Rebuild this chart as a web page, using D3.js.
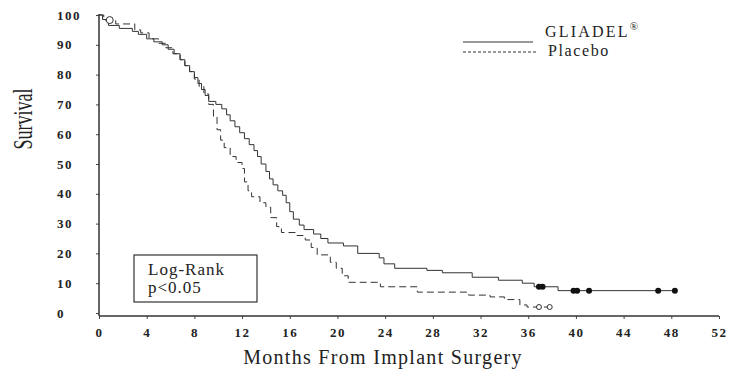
<!DOCTYPE html>
<html>
<head>
<meta charset="utf-8">
<script src="https://cdn.jsdelivr.net/npm/d3@7"></script>
<style>
  body { margin: 0; background: #fff; }
  text { font-family: "Liberation Serif", "Times New Roman", serif; fill: #222; }
</style>
</head>
<body>
<div id="chart"></div>
<script>
// step points: [month, survival after step]
var gliadelTimes = [0, 0.3, 0.8, 1.7, 2.8, 3.3, 4.0, 4.6, 5.3, 5.8, 6.3, 6.8, 7.2, 7.6, 8.0, 8.3, 8.6, 8.9, 9.2, 9.8,
    10.3, 10.7, 11.0, 11.4, 11.8, 12.2, 12.6, 13.0, 13.3, 13.6, 14.0, 14.3, 14.6, 15.0, 15.4, 15.7, 16.0, 16.3, 16.8, 17.2,
    18.0, 18.6, 19.2, 20.5, 21.7, 23.5, 23.9, 24.8, 27.5, 28.8, 31.3, 33.5, 35.5, 36.5, 38.5, 48.4];
var gliadelSurv = [100, 98.5, 96.5, 95.5, 94.5, 93.5, 92, 91, 90, 88.5, 87, 85, 83, 81, 79, 77, 75, 73, 71, 70,
    68.5, 66.5, 64.5, 62.5, 60.5, 58.5, 56.5, 54.5, 52.5, 50, 47.5, 45, 43, 41, 39.5, 37, 34, 31.5, 29.5, 28,
    26.5, 25, 23.5, 22.5, 20, 18.5, 16.5, 15, 14.3, 13.5, 12, 11, 10, 8.8, 7.5, 7.5];

var placeboTimes = [0, 0.4, 1.4, 3.0, 3.5, 4.2, 5.0, 5.6, 6.2, 6.8, 7.2, 7.6, 8.0, 8.4, 8.8, 9.2, 9.6, 9.9, 10.2, 10.5,
    11.0, 11.5, 12.0, 12.2, 12.5, 12.8, 13.5, 14.0, 14.4, 14.9, 15.3, 16.6, 17.3, 17.8, 18.3, 19.4, 19.9, 20.4, 20.9,
    23.6, 26.7, 31.0, 32.8, 34.0, 35.3, 35.9, 38.0];
var placeboSurv = [100, 98.3, 97, 95, 94, 92, 90.5, 89, 87, 85, 83, 81, 78.5, 76, 73.5, 70, 66, 61.5, 58, 55.5,
    52.5, 50.5, 48.5, 44, 41, 39, 37, 35.5, 32, 29, 27, 26, 24.5, 22, 19.5, 17, 15, 12.5, 10.3,
    8.8, 7, 6, 5.4, 4.5, 2.7, 2, 2];

// censored patients
var gliadelCensT = [36.9, 37.2, 39.8, 40.1, 41.1, 46.9, 48.3];
var gliadelCensS = [8.8, 8.8, 7.5, 7.5, 7.5, 7.5, 7.5];
var placeboCensT = [0.9, 36.9, 37.8];
var placeboCensS = [98.3, 2, 2];

var xTicks = d3.range(0, 53, 4);
var yTicks = d3.range(0, 101, 10);

var svg = d3.select("#chart").append("svg")
    .attr("width", 729)
    .attr("height", 369);

var x = d3.scaleLinear().domain([0, 52]).range([99, 719]);
var y = d3.scaleLinear().domain([0, 100]).range([313, 15]);

// X axis
var xAxis = svg.append("g")
    .attr("transform", "translate(0,316)")
    .call(d3.axisBottom(x).tickValues(xTicks).tickSize(3).tickSizeOuter(0));
xAxis.select(".domain").remove();
xAxis.selectAll("line").attr("stroke", "#444");
xAxis.selectAll("text")
    .attr("y", 12)
    .style("font-size", "13px")
    .style("font-weight", "bold")
    .style("letter-spacing", "1.5px")
    .attr("fill", "#222");
svg.append("line")
    .attr("x1", 99).attr("x2", 719)
    .attr("y1", 316).attr("y2", 316)
    .attr("stroke", "#333").attr("stroke-width", 1.5);

// Y axis
var yAxis = svg.append("g")
    .attr("transform", "translate(99,0)")
    .call(d3.axisLeft(y).tickValues(yTicks).tickSize(3).tickSizeOuter(0));
yAxis.select(".domain").remove();
yAxis.selectAll("line").attr("stroke", "#444");
yAxis.selectAll("text")
    .attr("x", -42)
    .style("text-anchor", "start")
    .style("font-size", "13px")
    .style("font-weight", "bold")
    .style("letter-spacing", "1.5px")
    .attr("fill", "#222");
svg.append("line")
    .attr("x1", 99).attr("x2", 99)
    .attr("y1", 14).attr("y2", 316)
    .attr("stroke", "#333").attr("stroke-width", 1.5);

// curves
var line = d3.line()
    .x(function (d) { return x(d[0]); })
    .y(function (d) { return y(d[1]); })
    .curve(d3.curveStepAfter);

svg.append("path")
    .datum(d3.zip(gliadelTimes, gliadelSurv))
    .attr("d", line)
    .attr("fill", "none")
    .attr("stroke", "#333")
    .attr("stroke-width", 1);

svg.append("path")
    .datum(d3.zip(placeboTimes, placeboSurv))
    .attr("d", line)
    .attr("fill", "none")
    .attr("stroke", "#333")
    .attr("stroke-width", 1)
    .attr("stroke-dasharray", "7,4");

svg.selectAll("circle.g")
    .data(d3.zip(gliadelCensT, gliadelCensS))
    .enter().append("circle")
    .attr("cx", function (d) { return x(d[0]); })
    .attr("cy", function (d) { return y(d[1]); })
    .attr("r", 3)
    .attr("fill", "#111");

svg.selectAll("circle.p")
    .data(d3.zip(placeboCensT, placeboCensS))
    .enter().append("circle")
    .attr("cx", function (d) { return x(d[0]); })
    .attr("cy", function (d) { return y(d[1]); })
    .attr("r", function (d, i) { return i === 0 ? 3.5 : 2.5; })
    .attr("fill", "#fff")
    .attr("stroke", "#333")
    .attr("stroke-width", 1);

// legend
svg.append("line")
    .attr("x1", 463).attr("x2", 533).attr("y1", 42).attr("y2", 42)
    .attr("stroke", "#333");
svg.append("line")
    .attr("x1", 463).attr("x2", 537).attr("y1", 52).attr("y2", 52)
    .attr("stroke", "#333").attr("stroke-dasharray", "3,2");
var gl = svg.append("text")
    .attr("x", 545).attr("y", 37)
    .style("font-size", "16px")
    .style("letter-spacing", "2.2px");
gl.append("tspan").text("GLIADEL");
gl.append("tspan").text("®").attr("dy", -7).style("font-size", "11px");
svg.append("text")
    .attr("x", 548).attr("y", 56)
    .style("font-size", "16px")
    .style("letter-spacing", "1.6px")
    .text("Placebo");

// log-rank box
svg.append("rect")
    .attr("x", 134).attr("y", 255)
    .attr("width", 123).attr("height", 47)
    .attr("fill", "none")
    .attr("stroke", "#333")
    .attr("stroke-width", 1.2);
svg.append("text")
    .attr("x", 148).attr("y", 275)
    .style("font-size", "17px")
    .style("letter-spacing", "1px")
    .text("Log-Rank");
svg.append("text")
    .attr("x", 148).attr("y", 293)
    .style("font-size", "17px")
    .style("letter-spacing", "1px")
    .text("p<0.05");

// axis titles
svg.append("text")
    .attr("transform", "translate(32,119) rotate(-90) scale(1,1.5)")
    .style("text-anchor", "middle")
    .style("font-size", "18px")
    .text("Survival");

svg.append("text")
    .attr("x", 383).attr("y", 364)
    .style("text-anchor", "middle")
    .style("font-size", "20px")
    .style("letter-spacing", "1.3px")
    .text("Months From Implant Surgery");
</script>
</body>
</html>
